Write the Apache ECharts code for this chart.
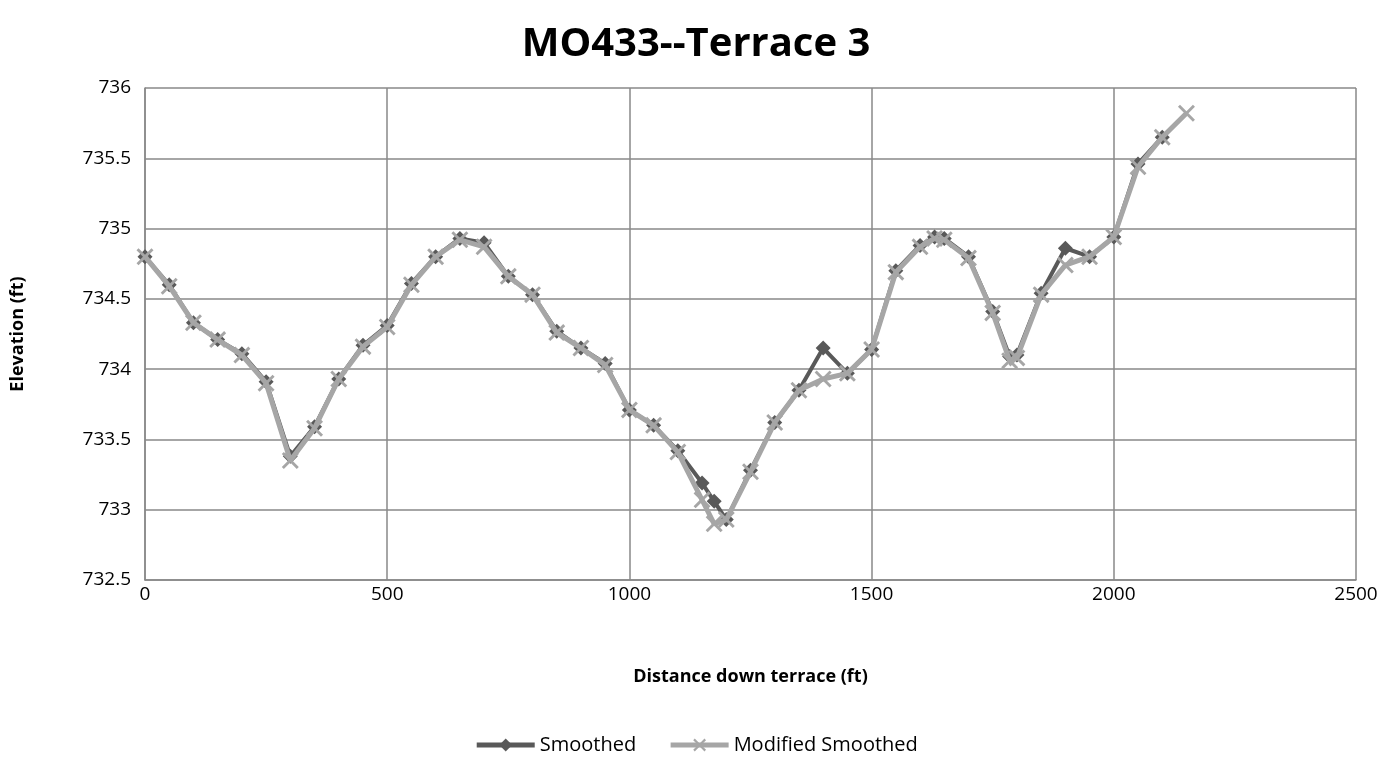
<!DOCTYPE html>
<html>
<head>
<meta charset="utf-8">
<script src="https://cdn.jsdelivr.net/npm/echarts@6/dist/echarts.min.js"></script>
<style>
html,body{margin:0;padding:0;background:#fff;}
#chart{width:1392px;height:765px;}
</style>
</head>
<body>
<div id="chart"></div>
<script>
const titleText = "MO433--Terrace 3";
const seriesNames = ["Smoothed", "Modified Smoothed"];
const xTicks = [0, 500, 1000, 1500, 2000, 2500];
const yTicks = [732.5, 733, 733.5, 734, 734.5, 735, 735.5, 736];

const smoothedX = [0,50,100,150,200,250,300,350,400,450,500,550,600,650,700,750,800,850,900,950,1000,1050,1100,1150,1175,1200,1250,1300,1350,1400,1450,1500,1550,1600,1630,1650,1700,1750,1785,1800,1850,1900,1950,2000,2050,2100];
const smoothedY = [734.80,734.60,734.33,734.21,734.11,733.91,733.38,733.59,733.93,734.17,734.31,734.61,734.80,734.93,734.90,734.66,734.53,734.27,734.15,734.04,733.71,733.60,733.42,733.19,733.06,732.93,733.28,733.62,733.85,734.15,733.97,734.14,734.70,734.88,734.94,734.93,734.80,734.41,734.09,734.10,734.54,734.86,734.80,734.94,735.46,735.65];

const modifiedX = [0,50,100,150,200,250,300,350,400,450,500,550,600,650,700,750,800,850,900,950,1000,1050,1100,1150,1175,1200,1250,1300,1350,1400,1450,1500,1550,1600,1630,1650,1700,1750,1785,1800,1850,1900,1950,2000,2050,2100,2150];
const modifiedY = [734.80,734.59,734.33,734.21,734.10,733.90,733.35,733.58,733.93,734.16,734.30,734.60,734.80,734.92,734.87,734.66,734.53,734.26,734.15,734.03,733.71,733.60,733.41,733.07,732.90,732.93,733.27,733.62,733.85,733.93,733.97,734.14,734.69,734.87,734.93,734.92,734.79,734.40,734.06,734.08,734.53,734.74,734.80,734.94,735.44,735.65,735.82];

const pair = (xs, ys) => xs.map((x, i) => [x, ys[i]]);
const xMark = 'path://M0,1.2L1.2,0L5,3.8L8.8,0L10,1.2L6.2,5L10,8.8L8.8,10L5,6.2L1.2,10L0,8.8L3.8,5Z';
const font = "'Open Sans', 'Noto Sans', sans-serif";

const chart = echarts.init(document.getElementById('chart'));
chart.setOption({
  backgroundColor: '#ffffff',
  animation: false,
  textStyle: { fontFamily: font },
  title: {
    text: titleText,
    left: 'center',
    top: 20,
    textStyle: { fontFamily: font, fontSize: 40, fontWeight: 'bold', color: '#000' }
  },
  grid: { left: 145, right: 36, top: 88, bottom: 185, containLabel: false },
  legend: {
    bottom: 5,
    left: 'center',
    itemWidth: 58,
    itemHeight: 16,
    itemGap: 32,
    textStyle: { fontFamily: font, fontSize: 20, color: '#000' },
    data: [
      { name: seriesNames[0], lineStyle: { width: 5 } },
      { name: seriesNames[1], lineStyle: { width: 5 } }
    ]
  },
  xAxis: {
    type: 'value',
    min: xTicks[0],
    max: xTicks[xTicks.length - 1],
    interval: 500,
    name: 'Distance down terrace (ft)',
    nameLocation: 'middle',
    nameGap: 88,
    nameTextStyle: { fontFamily: font, fontSize: 18, fontWeight: 'bold', color: '#000' },
    axisLine: { show: true, lineStyle: { color: '#888', width: 1.5 } },
    axisTick: { show: false },
    axisLabel: { fontSize: 19, color: '#000', margin: 5, formatter: v => String(v) },
    splitLine: { show: true, lineStyle: { color: '#888', width: 1.5 } }
  },
  yAxis: {
    type: 'value',
    min: yTicks[0],
    max: yTicks[yTicks.length - 1],
    interval: 0.5,
    name: 'Elevation (ft)',
    nameLocation: 'middle',
    nameRotate: 90,
    nameGap: 118,
    nameTextStyle: { fontFamily: font, fontSize: 18, fontWeight: 'bold', color: '#000' },
    axisLine: { show: true, lineStyle: { color: '#888', width: 1.5 } },
    axisTick: { show: false },
    axisLabel: { fontSize: 19, color: '#000', margin: 14, formatter: v => String(v) },
    splitLine: { show: true, lineStyle: { color: '#888', width: 1.5 } }
  },
  series: [
    {
      name: seriesNames[0],
      type: 'line',
      data: pair(smoothedX, smoothedY),
      symbol: 'diamond',
      symbolSize: 15,
      showAllSymbol: true,
      lineStyle: { color: '#595959', width: 4 },
      itemStyle: { color: '#595959' },
      z: 2
    },
    {
      name: seriesNames[1],
      type: 'line',
      data: pair(modifiedX, modifiedY),
      symbol: xMark,
      symbolSize: 17,
      showAllSymbol: true,
      lineStyle: { color: '#A6A6A6', width: 5 },
      itemStyle: { color: '#A6A6A6' },
      z: 3
    }
  ]
});
</script>
</body>
</html>
